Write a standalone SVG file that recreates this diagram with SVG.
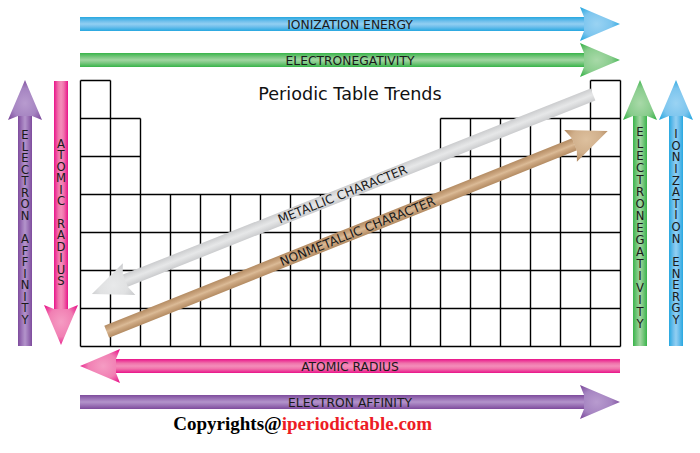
<svg xmlns="http://www.w3.org/2000/svg" xmlns:xlink="http://www.w3.org/1999/xlink" width="700" height="453" viewBox="0 0 700 453">
<style>
.lbl{font-family:"DejaVu Sans",Verdana,sans-serif;font-size:12.3px;fill:#1a1a1a;text-anchor:middle}
.vlbl{font-family:"DejaVu Sans",Verdana,sans-serif;font-size:11.6px;fill:#1a1a1a;text-anchor:middle}
.title{font-family:"DejaVu Sans",Verdana,sans-serif;font-size:17.6px;fill:#111;text-anchor:middle}
.grid{fill:none;stroke:#000;stroke-width:1.4}
.copy{font-family:"Liberation Serif","Times New Roman",serif;font-weight:bold;font-size:19px;fill:#000}
</style>
<defs>
<path id="head" d="M-40,-17 L0,0 L-40,17 L-36,7 L-36,-7 Z"/>
<linearGradient id="lgBlue" x1="0" y1="0" x2="0" y2="1"><stop offset="0" stop-color="#27a8e0"/><stop offset="0.3" stop-color="#6fbfec"/><stop offset="0.5" stop-color="#92cff2"/><stop offset="0.7" stop-color="#6fbfec"/><stop offset="1" stop-color="#27a8e0"/></linearGradient>
<radialGradient id="rgBlue" cx="0.42" cy="0.5" r="0.62"><stop offset="0" stop-color="#9ad3f3"/><stop offset="0.6" stop-color="#7cc5ee"/><stop offset="1" stop-color="#27a8e0"/></radialGradient>
<linearGradient id="lgGreen" x1="0" y1="0" x2="0" y2="1"><stop offset="0" stop-color="#38b449"/><stop offset="0.3" stop-color="#7cc882"/><stop offset="0.5" stop-color="#a2d6a2"/><stop offset="0.7" stop-color="#7cc882"/><stop offset="1" stop-color="#38b449"/></linearGradient>
<radialGradient id="rgGreen" cx="0.42" cy="0.5" r="0.62"><stop offset="0" stop-color="#a8d9a8"/><stop offset="0.6" stop-color="#88cc8c"/><stop offset="1" stop-color="#38b449"/></radialGradient>
<linearGradient id="lgPink" x1="0" y1="0" x2="0" y2="1"><stop offset="0" stop-color="#e9138a"/><stop offset="0.3" stop-color="#f072ab"/><stop offset="0.5" stop-color="#f48dba"/><stop offset="0.7" stop-color="#f072ab"/><stop offset="1" stop-color="#e9138a"/></linearGradient>
<radialGradient id="rgPink" cx="0.42" cy="0.5" r="0.62"><stop offset="0" stop-color="#f59cc3"/><stop offset="0.6" stop-color="#f17fb3"/><stop offset="1" stop-color="#e9138a"/></radialGradient>
<linearGradient id="lgPurple" x1="0" y1="0" x2="0" y2="1"><stop offset="0" stop-color="#7d4b9c"/><stop offset="0.3" stop-color="#9f78ba"/><stop offset="0.5" stop-color="#b394cb"/><stop offset="0.7" stop-color="#9f78ba"/><stop offset="1" stop-color="#7d4b9c"/></linearGradient>
<radialGradient id="rgPurple" cx="0.42" cy="0.5" r="0.62"><stop offset="0" stop-color="#b89bcf"/><stop offset="0.6" stop-color="#a584c1"/><stop offset="1" stop-color="#7d4b9c"/></radialGradient>
<linearGradient id="lgGray" x1="0" y1="0" x2="0" y2="1"><stop offset="0" stop-color="#cbccce"/><stop offset="0.35" stop-color="#dfe0e1"/><stop offset="0.5" stop-color="#e6e7e8"/><stop offset="0.65" stop-color="#dfe0e1"/><stop offset="1" stop-color="#cbccce"/></linearGradient>
<radialGradient id="rgGray" cx="0.42" cy="0.5" r="0.62"><stop offset="0" stop-color="#e8e9ea"/><stop offset="0.6" stop-color="#e0e1e2"/><stop offset="1" stop-color="#cbccce"/></radialGradient>
<linearGradient id="lgTan" x1="0" y1="0" x2="0" y2="1"><stop offset="0" stop-color="#b48c63"/><stop offset="0.35" stop-color="#cda882"/><stop offset="0.5" stop-color="#dbbb97"/><stop offset="0.65" stop-color="#cda882"/><stop offset="1" stop-color="#b48c63"/></linearGradient>
<radialGradient id="rgTan" cx="0.42" cy="0.5" r="0.62"><stop offset="0" stop-color="#ddc09e"/><stop offset="0.6" stop-color="#d1b08c"/><stop offset="1" stop-color="#b48c63"/></radialGradient>
</defs>
<rect width="700" height="453" fill="#fff"/>
<g id="grid" class="grid" transform="translate(0.5,0.5)">
<path d="M80,80H110M590,80H620M80,118H140M440,118H620M80,156H140M440,156H620M80,194H620M80,232H620M80,270H620M80,308H620M80,346H620"/>
<path d="M80,80V346M110,80V346M140,118V346M170,194V346M200,194V346M230,194V346M260,194V346M290,194V346M320,194V346M350,194V346M380,194V346M410,194V346M440,118V346M470,118V346M500,118V346M530,118V346M560,118V346M590,80V346M620,80V346"/>
</g>
<text id="title" class="title" x="350" y="99.5">Periodic Table Trends</text>
<g id="connectors">
<g id="arrow-ie-top" transform="translate(80,24)"><rect x="0" y="-7" width="505" height="14" fill="url(#lgBlue)"/><use xlink:href="#head" transform="translate(540,0)" fill="url(#rgBlue)"/></g>
<g id="arrow-en-top" transform="translate(80,60)"><rect x="0" y="-7" width="505" height="14" fill="url(#lgGreen)"/><use xlink:href="#head" transform="translate(540,0)" fill="url(#rgGreen)"/></g>
<g id="arrow-ar-bottom" transform="translate(620,366) rotate(180)"><rect x="0" y="-7" width="505" height="14" fill="url(#lgPink)"/><use xlink:href="#head" transform="translate(540,0)" fill="url(#rgPink)"/></g>
<g id="arrow-ea-bottom" transform="translate(80,402)"><rect x="0" y="-7" width="505" height="14" fill="url(#lgPurple)"/><use xlink:href="#head" transform="translate(540,0)" fill="url(#rgPurple)"/></g>
<g id="arrow-ea-left" transform="translate(25,346) rotate(-90)"><rect x="0" y="-7" width="231" height="14" fill="url(#lgPurple)"/><use xlink:href="#head" transform="translate(266,0)" fill="url(#rgPurple)"/></g>
<g id="arrow-ar-left" transform="translate(61,81) rotate(90)"><rect x="0" y="-7" width="229" height="14" fill="url(#lgPink)"/><use xlink:href="#head" transform="translate(264,0)" fill="url(#rgPink)"/></g>
<g id="arrow-en-right" transform="translate(640,346) rotate(-90)"><rect x="0" y="-7" width="231" height="14" fill="url(#lgGreen)"/><use xlink:href="#head" transform="translate(266,0)" fill="url(#rgGreen)"/></g>
<g id="arrow-ie-right" transform="translate(676,346) rotate(-90)"><rect x="0" y="-7" width="231" height="14" fill="url(#lgBlue)"/><use xlink:href="#head" transform="translate(266,0)" fill="url(#rgBlue)"/></g>
<g id="arrow-metallic" transform="translate(593,94.5) rotate(158.3)"><rect x="0" y="-6.5" width="504" height="13" fill="url(#lgGray)"/><use xlink:href="#head" transform="translate(539.3,0)" fill="url(#rgGray)"/></g>
<g id="arrow-nonmetallic" transform="translate(106.7,331.7) rotate(-21.83)"><rect x="0" y="-6.5" width="504" height="13" fill="url(#lgTan)"/><use xlink:href="#head" transform="translate(539.7,0)" fill="url(#rgTan)"/></g>
</g>
<g id="labels">
<text class="lbl" x="350" y="28.5">IONIZATION ENERGY</text>
<text class="lbl" x="350" y="64.5">ELECTRONEGATIVITY</text>
<text class="lbl" x="350" y="370.5">ATOMIC RADIUS</text>
<text class="lbl" x="350" y="406.5">ELECTRON AFFINITY</text>
<text class="lbl" transform="translate(342.5,194.2) rotate(-21.7)" x="0" y="4.4">METALLIC CHARACTER</text>
<text class="lbl" transform="translate(357.5,231.2) rotate(-21.83)" x="0" y="4.4">NONMETALLIC CHARACTER</text>
<text class="vlbl" x="25 25 25 25 25 25 25 25 25 25 25 25 25 25 25 25 25" y="139 150.6 162.1 173.7 185.2 196.8 208.3 219.9 231.4 243 254.5 266.1 277.6 289.2 300.7 312.3 323.8">ELECTRON AFFINITY</text>
<text class="vlbl" x="61 61 61 61 61 61 61 61 61 61 61 61 61" y="148 159.4 170.8 182.3 193.7 205.1 216.5 227.9 239.4 250.8 262.2 273.6 285">ATOMIC RADIUS</text>
<text class="vlbl" x="640 640 640 640 640 640 640 640 640 640 640 640 640 640 640 640 640" y="136 148 160 172 184 196 208 220 232 244 256 268 280 292 304 316 328">ELECTRONEGATIVITY</text>
<text class="vlbl" x="676 676 676 676 676 676 676 676 676 676 676 676 676 676 676 676 676" y="138 149.6 161.3 172.9 184.5 196.1 207.8 219.4 231 242.6 254.3 265.9 277.5 289.1 300.8 312.4 324">IONIZATION ENERGY</text>
</g>
<text id="copyright" class="copy" x="173.3" y="430">Copyrights@<tspan fill="#ed1c24">iperiodictable.com</tspan></text>
</svg>
